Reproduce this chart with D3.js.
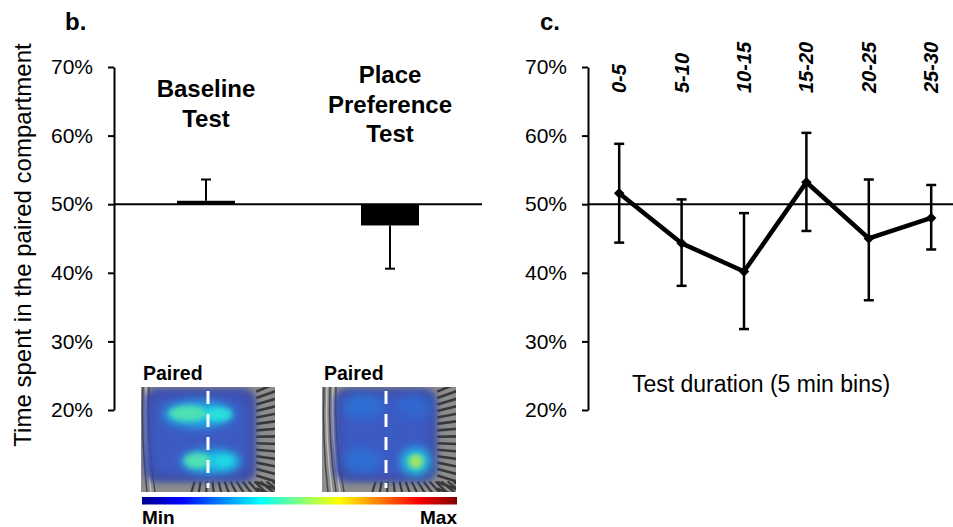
<!DOCTYPE html>
<html>
<head>
<meta charset="utf-8">
<script src="https://cdn.jsdelivr.net/npm/d3@7"></script>
<style>
  html, body { margin: 0; padding: 0; background: #fff; }
  svg { display: block; font-family: "Liberation Sans", Arial, sans-serif; }
</style>
</head>
<body>
<svg id="chart" width="953" height="527"></svg>
<script>
// ---------- data ----------
const yTicks = [20, 30, 40, 50, 60, 70];
const referenceLevel = 50;

// panel b
const barCategories = ["Baseline Test", "Place Preference Test"];
const barLabelLines = [["Baseline", "Test"], ["Place", "Preference", "Test"]];
const barValues = [50.5, 46.9];
const barErrorEnds = [53.6, 40.6];

// panel c
const binCategories = ["0-5", "5-10", "10-15", "15-20", "20-25", "25-30"];
const binValues = [51.6, 44.3, 40.2, 53.2, 45.0, 48.0];
const binUpper = [58.8, 50.7, 48.7, 60.4, 53.6, 52.8];
const binLower = [44.4, 38.1, 31.8, 46.1, 36.0, 43.4];

// heatmap occupancy blobs (relative position in arena, level on colour scale 0..1)
const heatmapTitles = ["Paired", "Paired"];
const heatmapBlobs = [
  [ {u:0.43, v:0.26, ru:0.26, rv:0.12, level:0.34},
    {u:0.35, v:0.25, ru:0.14, rv:0.075, level:0.46},
    {u:0.58, v:0.26, ru:0.10, rv:0.065, level:0.40},
    {u:0.52, v:0.71, ru:0.22, rv:0.11, level:0.34},
    {u:0.42, v:0.70, ru:0.10, rv:0.075, level:0.46},
    {u:0.62, v:0.70, ru:0.08, rv:0.06, level:0.39} ],
  [ {u:0.30, v:0.18, ru:0.16, rv:0.12, level:0.27},
    {u:0.70, v:0.18, ru:0.14, rv:0.11, level:0.26},
    {u:0.30, v:0.70, ru:0.14, rv:0.12, level:0.27},
    {u:0.70, v:0.71, ru:0.11, rv:0.13, level:0.36},
    {u:0.70, v:0.71, ru:0.055, rv:0.07, level:0.58} ]
];
const colorbarStops = ["#00008f", "#0000ff", "#0080ff", "#00ffff", "#80ff80", "#ffff00", "#ff8000", "#ff0000", "#800000"];

// ---------- drawing ----------
const svg = d3.select("#chart");
const defs = svg.append("defs");
const y = d3.scaleLinear().domain([20, 70]).range([410, 67]);
const fmt = d => d + "%";

function drawAxis(x0) {
  const g = svg.append("g").attr("transform", `translate(${x0},0)`)
    .call(d3.axisLeft(y).tickValues(yTicks).tickFormat(fmt).tickSize(6).tickSizeOuter(0).tickPadding(15));
  g.select(".domain").attr("stroke", "#000").attr("stroke-width", 2);
  g.selectAll(".tick line").attr("stroke", "#000").attr("stroke-width", 2);
  g.selectAll(".tick text").attr("fill", "#000").attr("font-size", 21)
    .attr("font-family", "Liberation Sans, Arial, sans-serif");
  return g;
}

// ===== Panel b =====
const xb = d3.scalePoint().domain(barCategories).range([114, 482]).padding(0.5);
drawAxis(114);
svg.append("text").attr("x", 65).attr("y", 30).attr("font-size", 24).attr("font-weight", "bold").text("b.");
svg.append("text")
  .attr("transform", "translate(31,245) rotate(-90)")
  .attr("text-anchor", "middle").attr("font-size", 24)
  .text("Time spent in the paired compartment");

const barW = 58;
barCategories.forEach((c, i) => {
  const cx = xb(c);
  svg.append("line").attr("x1", cx).attr("x2", cx)
    .attr("y1", y(barValues[i])).attr("y2", y(barErrorEnds[i]))
    .attr("stroke", "#000").attr("stroke-width", 2);
  svg.append("line").attr("x1", cx - 5).attr("x2", cx + 5)
    .attr("y1", y(barErrorEnds[i])).attr("y2", y(barErrorEnds[i]))
    .attr("stroke", "#000").attr("stroke-width", 2);
});
svg.selectAll("rect.bar").data(barCategories).join("rect").attr("class", "bar")
  .attr("x", d => xb(d) - barW / 2).attr("width", barW)
  .attr("y", (d, i) => Math.min(y(barValues[i]), y(referenceLevel)))
  .attr("height", (d, i) => Math.abs(y(barValues[i]) - y(referenceLevel)))
  .attr("fill", "#000");
svg.append("line").attr("x1", 114).attr("x2", 482)
  .attr("y1", y(referenceLevel)).attr("y2", y(referenceLevel))
  .attr("stroke", "#000").attr("stroke-width", 2);

barCategories.forEach((c, i) => {
  const lines = barLabelLines[i];
  const t = svg.append("text").attr("text-anchor", "middle").attr("font-size", 24).attr("font-weight", "bold");
  const y0 = i === 0 ? 97 : 83;
  lines.forEach((l, j) => t.append("tspan").attr("x", xb(c)).attr("y", y0 + j * 29.5).text(l));
});

// ===== heatmaps =====
const jet = d3.scaleLinear().domain(d3.range(colorbarStops.length).map(i => i / (colorbarStops.length - 1)))
  .range(colorbarStops).interpolate(d3.interpolateRgb);
const blobAlpha = d3.scaleLinear().domain([0.26, 0.34]).range([0.28, 0.8]).clamp(true);

const blurF = defs.append("filter").attr("id", "blur").attr("x", "-60%").attr("y", "-60%").attr("width", "220%").attr("height", "220%");
blurF.append("feGaussianBlur").attr("stdDeviation", 4);
const blurS = defs.append("filter").attr("id", "blurSmall").attr("x", "-60%").attr("y", "-60%").attr("width", "220%").attr("height", "220%");
blurS.append("feGaussianBlur").attr("stdDeviation", 2.5);
const blurBig = defs.append("filter").attr("id", "blurBig").attr("x", "-60%").attr("y", "-60%").attr("width", "220%").attr("height", "220%");
blurBig.append("feGaussianBlur").attr("stdDeviation", 5);
const blurEdge = defs.append("filter").attr("id", "blurEdge").attr("x", "-20%").attr("y", "-20%").attr("width", "140%").attr("height", "140%");
blurEdge.append("feGaussianBlur").attr("stdDeviation", 3);
const blurSoft = defs.append("filter").attr("id", "blurSoft");
blurSoft.append("feGaussianBlur").attr("stdDeviation", 0.6);

const hmBoxes = [{x: 141, y: 387, w: 134, h: 105, dash: 208, left: 3}, {x: 322, y: 387, w: 134, h: 105, dash: 386, left: 12}];
hmBoxes.forEach((b, k) => {
  const clipId = "hmclip" + k;
  defs.append("clipPath").attr("id", clipId).append("rect").attr("x", b.x).attr("y", b.y).attr("width", b.w).attr("height", b.h);
  const g = svg.append("g").attr("clip-path", `url(#${clipId})`);
  g.append("rect").attr("x", b.x).attr("y", b.y).attr("width", b.w).attr("height", b.h).attr("fill", "#8d8d8d");
  const st = g.append("g").attr("filter", "url(#blurSoft)");
  for (let yy = b.y - 10; yy < b.y + b.h + 10; yy += 6) {
    const t = (yy - b.y) / b.h;
    st.append("line").attr("x1", b.x + b.w * 0.86).attr("y1", yy + (t - 0.5) * 8)
      .attr("x2", b.x + b.w + 4).attr("y2", yy + (t - 0.5) * 30)
      .attr("stroke", "#2a2a2a").attr("stroke-width", 2.6);
  }
  for (let xx = b.x + b.w * 0.4; xx < b.x + b.w; xx += 6) {
    st.append("line").attr("x1", xx).attr("y1", b.y + b.h * 0.9)
      .attr("x2", xx + (xx - b.x - b.w * 0.5) * 0.3).attr("y2", b.y + b.h + 3)
      .attr("stroke", "#2a2a2a").attr("stroke-width", 2.2);
  }
  for (let j = 0; j < (k === 0 ? 3 : 5); j++) {
    st.append("path")
      .attr("d", `M${b.x + 2 + j * 3},${b.y} Q${b.x + j * 3},${b.y + b.h * 0.5} ${b.x + 6 + j * 4},${b.y + b.h}`)
      .attr("fill", "none").attr("stroke", j % 2 ? "#d0d0d0" : "#3a3a3a").attr("stroke-width", 1.4);
  }
  // arena floor
  g.append("rect").attr("x", b.x + b.left).attr("y", b.y + 1)
    .attr("width", b.w * 0.86 - b.left).attr("height", b.h * 0.9)
    .attr("rx", 14).attr("fill", "#2338b4").attr("opacity", 0.85).attr("filter", "url(#blurEdge)");
  g.append("rect").attr("x", b.x + b.left + 8).attr("y", b.y + 8).attr("width", b.w * 0.74 - b.left).attr("height", b.h * 0.76)
    .attr("rx", 18).attr("fill", "#2e55d4").attr("opacity", 0.85).attr("filter", "url(#blur)");
  // occupancy blobs
  heatmapBlobs[k].forEach(bl => {
    const cx = b.x + bl.u * b.w, cy = b.y + bl.v * b.h;
    const big = bl.level < 0.4;
    g.append("ellipse").attr("cx", cx).attr("cy", cy).attr("rx", bl.ru * b.w).attr("ry", bl.rv * b.h)
      .attr("fill", jet(bl.level)).attr("opacity", big ? blobAlpha(bl.level) : 0.75)
      .attr("filter", big ? "url(#blurBig)" : "url(#blurSmall)");
  });
  // desaturating camera overlay
  g.append("rect").attr("x", b.x).attr("y", b.y).attr("width", b.w).attr("height", b.h)
    .attr("fill", "#8a8a8a").attr("opacity", 0.15);
  g.append("line").attr("x1", b.dash).attr("x2", b.dash).attr("y1", b.y + 4).attr("y2", b.y + b.h - 4)
    .attr("stroke", "#fff").attr("stroke-width", 3).attr("stroke-dasharray", "13,10");
  svg.append("text").attr("x", b.x + 2).attr("y", 380).attr("font-size", 19.5).attr("font-weight", "bold").text(heatmapTitles[k]);
});

// colour bar
const grad = defs.append("linearGradient").attr("id", "jetgrad");
colorbarStops.forEach((c, i) => grad.append("stop").attr("offset", i / (colorbarStops.length - 1)).attr("stop-color", c));
svg.append("rect").attr("x", 142).attr("y", 497).attr("width", 315).attr("height", 7.5).attr("fill", "url(#jetgrad)");
svg.append("text").attr("x", 142).attr("y", 524).attr("font-size", 19).attr("font-weight", "bold").text("Min");
svg.append("text").attr("x", 457).attr("y", 524).attr("text-anchor", "end").attr("font-size", 19).attr("font-weight", "bold").text("Max");

// ===== Panel c =====
const xc = d3.scalePoint().domain(binCategories).range([588, 962.4]).padding(0.5);
drawAxis(588);
svg.append("text").attr("x", 540).attr("y", 30).attr("font-size", 24).attr("font-weight", "bold").text("c.");
svg.append("line").attr("x1", 588).attr("x2", 953)
  .attr("y1", y(referenceLevel)).attr("y2", y(referenceLevel))
  .attr("stroke", "#000").attr("stroke-width", 2);

binCategories.forEach((c, i) => {
  const cx = xc(c);
  const e = svg.append("g").attr("stroke", "#000").attr("stroke-width", 2.5);
  e.append("line").attr("x1", cx).attr("x2", cx).attr("y1", y(binUpper[i])).attr("y2", y(binLower[i]));
  e.append("line").attr("x1", cx - 5).attr("x2", cx + 5).attr("y1", y(binUpper[i])).attr("y2", y(binUpper[i]));
  e.append("line").attr("x1", cx - 5).attr("x2", cx + 5).attr("y1", y(binLower[i])).attr("y2", y(binLower[i]));
  svg.append("text")
    .attr("transform", `translate(${cx + 7},93) rotate(-90)`)
    .attr("text-anchor", "start").attr("font-size", 20).attr("font-weight", "bold").attr("font-style", "italic")
    .text(c);
});

svg.append("path").datum(binValues)
  .attr("d", d3.line().x((d, i) => xc(binCategories[i])).y(d => y(d)))
  .attr("fill", "none").attr("stroke", "#000").attr("stroke-width", 4.5).attr("stroke-linejoin", "miter");
svg.selectAll("path.marker").data(binValues).join("path").attr("class", "marker")
  .attr("d", d3.symbol().type(d3.symbolSquare).size(55))
  .attr("transform", (d, i) => `translate(${xc(binCategories[i])},${y(d)}) rotate(45)`)
  .attr("fill", "#000");

svg.append("text").attr("x", 761).attr("y", 392).attr("text-anchor", "middle").attr("font-size", 23)
  .text("Test duration (5 min bins)");
</script>
</body>
</html>
